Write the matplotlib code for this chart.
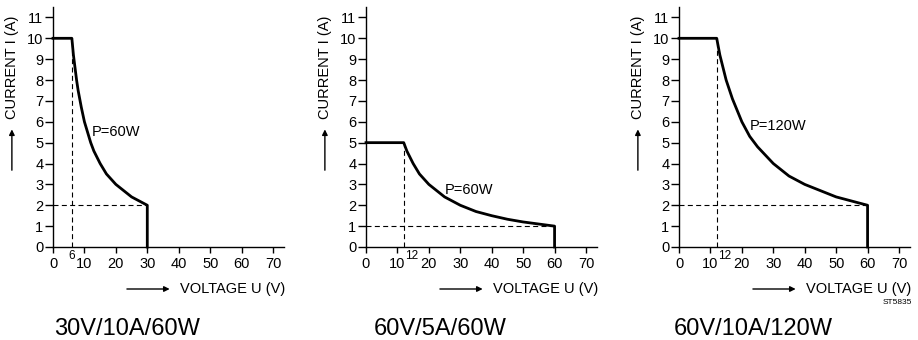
import matplotlib
matplotlib.use("Agg")
import matplotlib.pyplot as plt

plt.rcParams["font.family"] = ["Liberation Sans", "DejaVu Sans"]

# Panel titles and power labels
titles = ["30V/10A/60W", "60V/5A/60W", "60V/10A/120W"]
power_labels = ["P=60W", "P=60W", "P=120W"]
power_label_pos = [(12.4, 5.5), (24.9, 2.75), (22.6, 5.8)]

# Output characteristic curves (voltage U in V, current I in A)
u_30v10a = [0, 6, 6.5, 7, 7.5, 8, 9, 10, 11, 12, 13, 14, 15, 17, 20, 22.5, 25, 27.5, 30, 30]
i_30v10a = [10, 10, 9.2, 8.6, 8, 7.5, 6.7, 6, 5.5, 5, 4.6, 4.3, 4, 3.5, 3, 2.7, 2.4, 2.2, 2, 0]

u_60v5a = [0, 12, 13, 14, 15, 17, 20, 22.5, 25, 30, 35, 40, 45, 50, 55, 60, 60]
i_60v5a = [5, 5, 4.6, 4.3, 4, 3.5, 3, 2.7, 2.4, 2, 1.7, 1.5, 1.33, 1.2, 1.1, 1, 0]

u_60v10a = [0, 12, 13, 14, 15, 17, 20, 22.5, 25, 27.5, 30, 35, 40, 45, 50, 55, 60, 60]
i_60v10a = [10, 10, 9.2, 8.6, 8, 7.1, 6, 5.3, 4.8, 4.4, 4, 3.4, 3, 2.7, 2.4, 2.2, 2, 0]

curves_u = [u_30v10a, u_60v5a, u_60v10a]
curves_i = [i_30v10a, i_60v5a, i_60v10a]

# Corner points (voltage at current limit, current at max voltage)
corner_u = [6, 12, 12]
corner_i_top = [10, 5, 10]
end_u = [30, 60, 60]
end_i = [2, 1, 2]
corner_labels = ["6", "12", "12"]

x_ticks = [0, 10, 20, 30, 40, 50, 60, 70]
y_ticks = list(range(0, 12))

fig = plt.figure(figsize=(9.18, 3.4), dpi=100)
W, H = 918, 340
lefts = [53, 366, 679]
ax_w, ax_top, ax_bot = 231, 7, 247

for k in range(3):
    ax = fig.add_axes([lefts[k] / W, (H - ax_bot) / H, ax_w / W, (ax_bot - ax_top) / H])
    ax.set_xlim(0, 73.5)
    ax.set_ylim(0, 11.5)
    for side in ["top", "right"]:
        ax.spines[side].set_visible(False)
    for side in ["left", "bottom"]:
        ax.spines[side].set_linewidth(1.0)

    ax.set_xticks(x_ticks)
    ax.set_yticks(y_ticks)
    ax.tick_params(axis="x", length=4, width=1.0, pad=3, labelsize=10.5)
    ax.tick_params(axis="y", length=6, width=1.0, pad=1, labelsize=10.5)

    # dashed guide lines
    ax.plot([corner_u[k], corner_u[k]], [0, corner_i_top[k]], color="black",
            lw=0.8, dashes=(4.5, 3), clip_on=False)
    ax.plot([0, end_u[k]], [end_i[k], end_i[k]], color="black",
            lw=0.8, dashes=(4.5, 3), clip_on=False)

    # characteristic curve
    ax.plot(curves_u[k], curves_i[k], color="black", lw=2.0,
            solid_joinstyle="round", clip_on=False, zorder=3)

    ax.text(power_label_pos[k][0], power_label_pos[k][1], power_labels[k],
            fontsize=10.5, ha="left", va="center")

    # small corner voltage label
    ax.annotate(corner_labels[k], xy=(corner_u[k], 0), xytext=(0 if k == 0 else 1, -2),
                textcoords="offset points", ha="center" if k == 0 else "left",
                va="top", fontsize=8.5)

    # axis labels with arrows
    ax.text(-0.178, 0.75, "CURRENT I (A)", transform=ax.transAxes, rotation=90,
            ha="center", va="center", fontsize=10.5)
    ax.annotate("", xy=(-0.178, 0.49), xytext=(-0.178, 0.32),
                xycoords="axes fraction", textcoords="axes fraction",
                arrowprops=dict(arrowstyle="-|>", color="black", lw=1.0,
                                mutation_scale=8, shrinkA=0, shrinkB=0))
    ax.text(0.55, -0.175, "VOLTAGE U (V)", transform=ax.transAxes,
            ha="left", va="center", fontsize=10.5)
    ax.annotate("", xy=(0.505, -0.175), xytext=(0.32, -0.175),
                xycoords="axes fraction", textcoords="axes fraction",
                arrowprops=dict(arrowstyle="-|>", color="black", lw=1.0,
                                mutation_scale=8, shrinkA=0, shrinkB=0))

    ax.text(0.32, -0.34, titles[k], transform=ax.transAxes,
            ha="center", va="center", fontsize=17)

fig.text(912 / W, (H - 303) / H, "ST5835", fontsize=6, ha="right", va="center")

fig.savefig("out.png", dpi=100)
